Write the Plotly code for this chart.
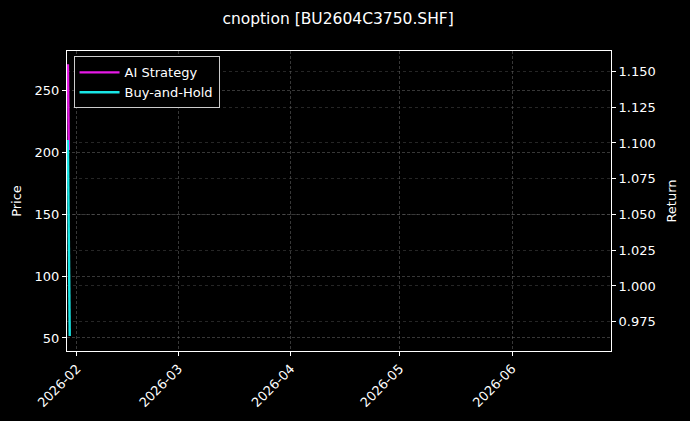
import plotly.graph_objects as go

# values
dates = ["2026-01-29 12:00", "2026-01-29 18:00", "2026-01-30 00:00"]
ai_strategy = [1.155, 1.095, None]
buy_and_hold = [1.102, 1.000, 0.965]

price_ticks = [50, 100, 150, 200, 250]
return_ticks = [0.975, 1.000, 1.025, 1.050, 1.075, 1.100, 1.125, 1.150]
month_ticks = ["2026-02-01", "2026-03-01", "2026-04-01", "2026-05-01", "2026-06-01"]
month_labels = ["2026-02", "2026-03", "2026-04", "2026-05", "2026-06"]

font = "DejaVu Sans, Liberation Sans, sans-serif"
grid = "rgba(110,110,110,0.5)"

fig = go.Figure()
# empty trace so the price axis is drawn
fig.add_trace(go.Scatter(x=[None], y=[None], mode="lines", showlegend=False,
                         hoverinfo="skip", yaxis="y"))
fig.add_trace(go.Scatter(x=dates, y=ai_strategy, name="AI Strategy", mode="lines",
                         line=dict(color="#e619e6", width=2.4), yaxis="y2"))
fig.add_trace(go.Scatter(x=dates, y=buy_and_hold, name="Buy-and-Hold", mode="lines",
                         line=dict(color="#19e6e6", width=2.4), yaxis="y2"))

fig.update_layout(
    width=690, height=421,
    margin=dict(l=67, r=79, t=51, b=70, autoexpand=False),
    paper_bgcolor="black", plot_bgcolor="black",
    font=dict(family=font, color="white", size=13),
    title=dict(text="cnoption [BU2604C3750.SHF]", x=0.49, xanchor="center",
               y=0.957, yanchor="middle", font=dict(size=15.5, color="white")),
    showlegend=True,
    legend=dict(x=0.012, y=0.982, xanchor="left", yanchor="top",
                bgcolor="black", bordercolor="#cccccc", borderwidth=1,
                font=dict(size=13, color="white"), itemwidth=40,
                tracegroupgap=2),
    xaxis=dict(
        type="date", range=["2026-01-29 06:00", "2026-06-28 07:00"],
        tickvals=month_ticks, ticktext=month_labels, tickangle=-45,
        showline=True, linecolor="white", linewidth=1, mirror=True,
        ticks="outside", ticklen=4, tickcolor="white", automargin=False,
        showgrid=True, gridcolor=grid, griddash="3px,2px", gridwidth=0.6,
        zeroline=False,
    ),
    yaxis=dict(
        title=dict(text="Price", standoff=10, font=dict(size=13)),
        range=[39.5, 281.5], tickvals=price_ticks,
        showline=True, linecolor="white", linewidth=1, mirror=True,
        ticks="outside", ticklen=4, tickcolor="white", automargin=False,
        showgrid=True, gridcolor=grid, griddash="3px,2px", gridwidth=0.6,
        zeroline=False,
    ),
    yaxis2=dict(
        title=dict(text="Return", standoff=12, font=dict(size=13)),
        overlaying="y", side="right",
        range=[0.9545, 1.1643], tickvals=return_ticks, tickformat=".3f",
        ticks="outside", ticklen=4, tickcolor="white", automargin=False,
        showgrid=True, gridcolor="rgba(110,110,110,0.35)", griddash="dot", gridwidth=0.6,
        zeroline=False,
    ),
)

# drop the page margin so the figure fills the window edge to edge
fig.write_html("out.html", config={"displayModeBar": False},
               post_script="document.body.style.margin='0';"
                           "document.body.style.background='black';")
